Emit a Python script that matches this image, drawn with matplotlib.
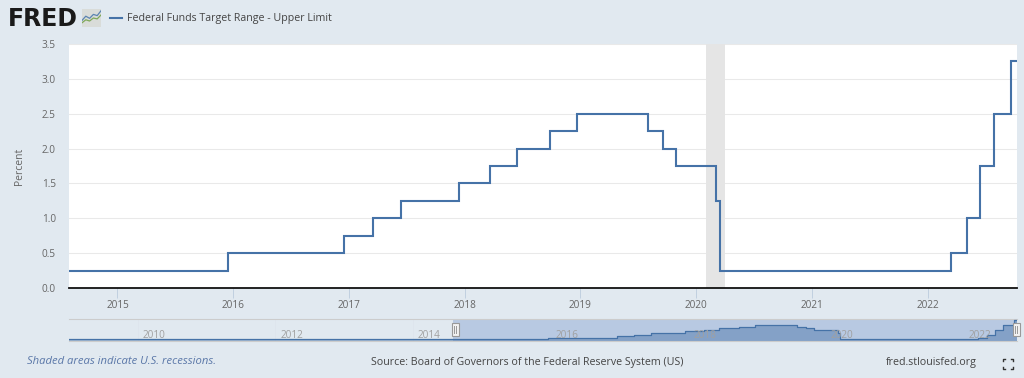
import datetime as dt

import matplotlib
matplotlib.use("Agg")
import matplotlib.dates as mdates
import matplotlib.pyplot as plt
from matplotlib.patches import Rectangle

W, H = 1024, 378
BG = "#e1e9f0"
LINE = "#4572a7"
TEXT = "#666666"

# rate changes, value holds until the next date
change_dates = [
    "2009-01-01", "2015-12-17", "2016-12-15", "2017-03-16", "2017-06-15",
    "2017-12-14", "2018-03-22", "2018-06-14", "2018-09-27", "2018-12-20",
    "2019-08-01", "2019-09-19", "2019-10-31", "2020-03-04", "2020-03-16",
    "2022-03-17", "2022-05-05", "2022-06-16", "2022-07-28", "2022-09-22",
    "2022-10-10",
]
upper_limit = [
    0.25, 0.50, 0.75, 1.00, 1.25,
    1.50, 1.75, 2.00, 2.25, 2.50,
    2.25, 2.00, 1.75, 1.25, 0.25,
    0.50, 1.00, 1.75, 2.50, 3.25,
    3.25,
]
recession = ("2020-02-01", "2020-04-01")
view_start = "2014-08-01"
view_end = "2022-10-10"
nav_start = "2009-01-01"
y_ticks = [0.0, 0.5, 1.0, 1.5, 2.0, 2.5, 3.0, 3.5]
main_years = [2015, 2016, 2017, 2018, 2019, 2020, 2021, 2022]
nav_years = [2010, 2012, 2014, 2016, 2018, 2020, 2022]
logo_a = [0, 1, 2, 3, 4, 5]
logo_b = [1.2, 2.6, 1.9, 3.2, 2.8, 4.4]
logo_c = [0.4, 1.4, 1.0, 2.0, 1.7, 3.0]


def d(s):
    return mdates.date2num(dt.date.fromisoformat(s))


def px_axes(fig, x0, y0, x1, y1, **kw):
    return fig.add_axes([x0 / W, 1 - y1 / H, (x1 - x0) / W, (y1 - y0) / H], **kw)


plt.rcParams["font.family"] = ["Open Sans", "DejaVu Sans"]
dates = [d(s) for s in change_dates]
fig = plt.figure(figsize=(W / 100, H / 100), dpi=100, facecolor=BG)

# main chart
ax = px_axes(fig, 69, 44, 1017, 288)
ax.set_facecolor("white")
ax.axvspan(d(recession[0]), d(recession[1]), color="#e5e5e5", lw=0, zorder=2)
ax.step(dates, upper_limit, where="post", color=LINE, lw=1.5, zorder=3,
        solid_joinstyle="miter")
ax.set_xlim(d(view_start), d(view_end))
ax.set_ylim(0, 3.5)
ax.set_yticks(y_ticks)
ax.set_yticklabels([f"{v:.1f}" for v in y_ticks], fontsize=7.2, color=TEXT)
ax.set_xticks([d(f"{y}-01-01") for y in main_years])
ax.set_xticklabels([str(y) for y in main_years], fontsize=7.2, color=TEXT)
ax.grid(axis="y", color="#e9e9e9", lw=0.75, zorder=1)
ax.set_axisbelow(True)
ax.tick_params(axis="y", length=0, pad=9.5)
ax.tick_params(axis="x", length=7, width=0.7, color="#c0d0e0", pad=2, direction="out")
for side in ("top", "right", "left"):
    ax.spines[side].set_visible(False)
ax.spines["bottom"].set_color("#111111")
ax.spines["bottom"].set_linewidth(1.3)
ax.spines["bottom"].set_zorder(5)
ax.set_ylabel("Percent", fontsize=7.5, color=TEXT)
ax.yaxis.set_label_coords(-0.0465, 0.5)

# navigator strip
nav = px_axes(fig, 69, 319, 1017, 341)
nav.set_facecolor(BG)
nav.axvspan(d(view_start), d(view_end), color="#b8c9e2", lw=0, zorder=1)
nav.fill_between(dates, upper_limit, step="post", color=LINE, alpha=0.45, lw=0, zorder=2)
nav.step(dates, upper_limit, where="post", color=LINE, lw=0.9, zorder=3)
nav.set_xlim(d(nav_start), d(view_end))
nav.set_ylim(0, 3.43)
nav.set_yticks([])
nav.set_xticks([d(f"{y}-01-01") for y in nav_years])
nav.set_xticklabels([])
nav.tick_params(axis="x", length=0)
nav.grid(axis="x", color="#dde4ec", lw=0.5, zorder=0)
nav.set_axisbelow(True)
for y in nav_years:
    nav.annotate(str(y), (d(f"{y}-01-01"), 0), xytext=(3.5, 0), textcoords="offset points",
                 fontsize=7.2, color="#a0a0a0", zorder=4, va="bottom")
for side in ("left", "right"):
    nav.spines[side].set_visible(False)
nav.spines["top"].set_color("#cccccc")
nav.spines["bottom"].set_color("#cccccc")

# overlay in pixel coordinates for legend, logo, credits
top = fig.add_axes([0, 0, 1, 1], facecolor="none", zorder=10)
top.set_xlim(0, W)
top.set_ylim(H, 0)
top.axis("off")

top.text(8, 18.5, "FRED", fontsize=17, fontweight="bold", color="#1a1a1a",
         family=["DejaVu Sans"], va="center", ha="left")
top.plot([110, 122], [18, 18], color=LINE, lw=1.5)
top.text(127, 18, "Federal Funds Target Range - Upper Limit", fontsize=7.7,
         color="#444444", va="center")
top.text(27, 362, "Shaded areas indicate U.S. recessions.", fontsize=8.1,
         color="#5a77a8", style="italic", va="center")
top.text(371, 362, "Source: Board of Governors of the Federal Reserve System (US)",
         fontsize=7.65, color="#444444", va="center")
top.text(886, 362, "fred.stlouisfed.org", fontsize=7.7, color="#444444", va="center")

for hx in (455, 1016):
    top.add_patch(Rectangle((hx - 3.5, 323), 7, 13, fc="#f2f2f2", ec="#999999", lw=0.8))
    top.plot([hx - 1, hx - 1], [326, 333], color="#999999", lw=0.7)
    top.plot([hx + 1, hx + 1], [326, 333], color="#999999", lw=0.7)

# fullscreen icon
for sx, sy in ((-1, -1), (1, -1), (-1, 1), (1, 1)):
    cx, cy = 1008 + sx * 5, 364 + sy * 5
    top.plot([cx - sx * 2, cx, cx], [cy, cy, cy - sy * 2], color="#333333", lw=1.0)

# logo chart icon
icon = px_axes(fig, 82, 9, 101, 27, facecolor="#d9dcd9", zorder=11)
icon.plot(logo_a, logo_b, color="#5b84b1", lw=0.9)
icon.plot(logo_a, logo_c, color="#7fa85a", lw=0.9)
icon.set_xlim(0, 5)
icon.set_ylim(-1, 5)
icon.set_xticks([])
icon.set_yticks([])
for s in icon.spines.values():
    s.set_visible(False)

fig.savefig("out.png", dpi=100, facecolor=BG)
